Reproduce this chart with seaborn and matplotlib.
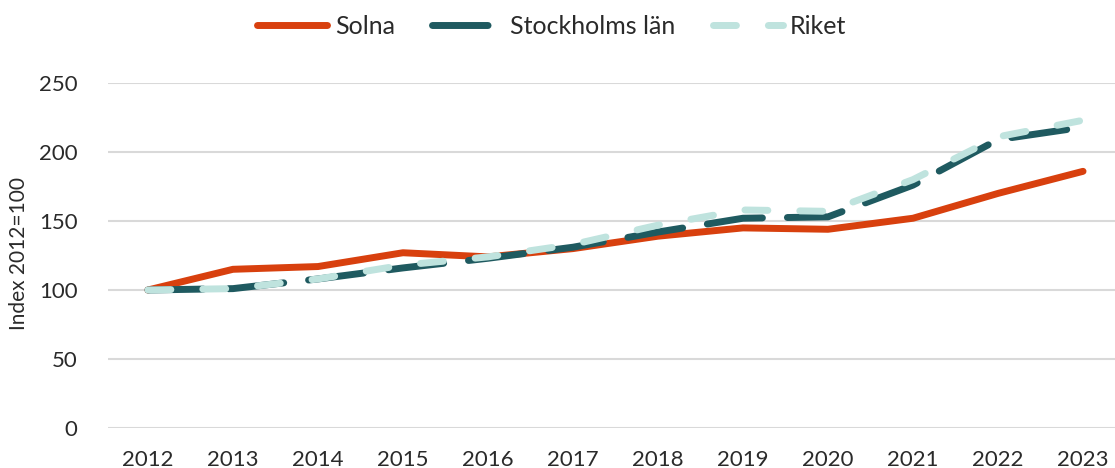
import pandas as pd
import numpy as np
import seaborn as sns
import matplotlib.pyplot as plt

years = list(range(2012, 2024))
solna = [100, 115, 117, 127, 124, 130, 139, 145, 144, 152, 170, 186]
stockholm = [100, 101, 108, 116, 123, 131, 142, 152, 153, 176, 209, 218]
riket = [100, 101, 108, 118, 124, 133, 147, 158, 157, 180, 211, 223]

series_names = ["Solna", "Stockholms län", "Riket"]
colors = {"Solna": "#D8400E", "Stockholms län": "#1F5A60", "Riket": "#BFE3DE"}
dashes = {"Solna": "", "Stockholms län": (8, 3.6), "Riket": (3.3, 4.6)}

df = pd.DataFrame({"År": years, "Solna": solna, "Stockholms län": stockholm, "Riket": riket})
df_long = df.melt(id_vars="År", var_name="Serie", value_name="Index")

sns.set_style("white")
plt.rcParams['font.family'] = ['Lato', 'DejaVu Sans']

fig = plt.figure(figsize=(11.15, 4.68), dpi=100)
ax = fig.add_axes([108 / 1115, 1 - 428 / 468, 1 - 108 / 1115, (428 - 83) / 468])

sns.lineplot(data=df_long, x="År", y="Index", hue="Serie", style="Serie",
             hue_order=series_names, style_order=series_names,
             palette=colors, dashes=dashes, lw=5, ax=ax, legend=True)

for line in ax.get_lines():
    line.set_solid_capstyle("round")
    line.set_dash_capstyle("round")
    line.set_clip_on(False)

ax.set_xlim(2011.53, 2023.376)
ax.set_ylim(0, 250)
ax.set_yticks(np.arange(0, 251, 50))
ax.set_xticks(years)
ax.grid(axis="y", color="#D9D9D9", lw=1.5)
ax.set_axisbelow(True)
for s in ax.spines.values():
    s.set_visible(False)
ax.tick_params(axis="both", length=0, labelsize=16, labelcolor="#2A2A2A")
ax.tick_params(axis="y", pad=22)
ax.tick_params(axis="x", pad=16)
ax.set_xlabel("")
ax.set_ylabel("Index 2012=100", fontsize=15, color="#2A2A2A")
# label centred where the reference has it
ax.yaxis.set_label_coords(19 / 1115, 1 - 253 / 468, transform=fig.transFigure)
ax.yaxis.label.set_va("center")

handles, labels = ax.get_legend_handles_labels()
for h in handles:
    h.set_linewidth(5)
    h.set_solid_capstyle("round")
    h.set_dash_capstyle("round")
ax.legend(handles, labels, loc="center", bbox_to_anchor=(552 / 1115, 1 - 26 / 468),
          bbox_transform=fig.transFigure, ncol=3, frameon=False, fontsize=18,
          handlelength=2.8, handletextpad=0.3, columnspacing=1.5,
          labelcolor="#2A2A2A")

fig.savefig("out.png", dpi=100)
